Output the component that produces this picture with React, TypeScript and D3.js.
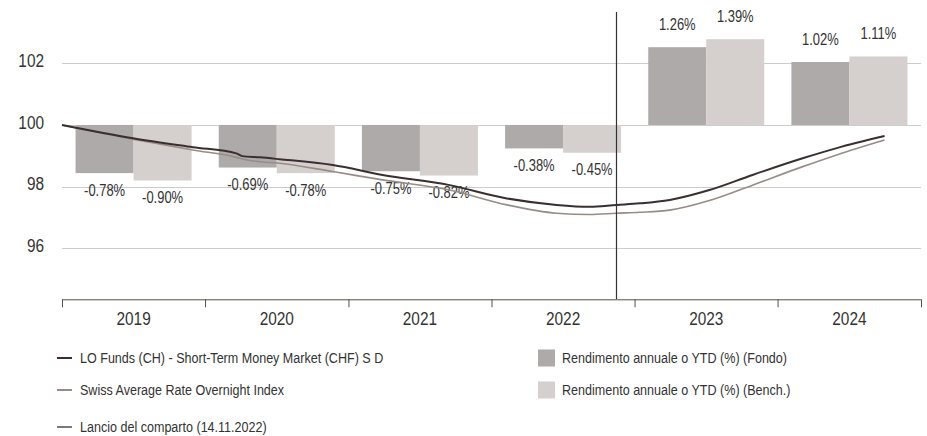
import React, { useEffect, useRef, useLayoutEffect } from 'react';
import * as d3 from 'd3';

const years = ['2019', '2020', '2021', '2022', '2023', '2024'];
const fundReturns = [-0.78, -0.69, -0.75, -0.38, 1.26, 1.02];
const benchReturns = [-0.9, -0.78, -0.82, -0.45, 1.39, 1.11];
const yTicks = [96, 98, 100, 102];

const lineDates = [
  '2019-01-01', '2019-07-01', '2019-12-01', '2020-03-21', '2020-04-05', '2020-05-20',
  '2020-07-09', '2020-11-22', '2021-03-29', '2021-09-16', '2022-02-09', '2022-06-16',
  '2022-09-08', '2022-11-16', '2023-01-14', '2023-04-01', '2023-07-11', '2023-10-29',
  '2024-03-05', '2024-05-31', '2024-09-30',
];
const fundIndex = [
  100.0, 99.57, 99.28, 99.08, 98.99, 98.95,
  98.89, 98.7, 98.38, 98.05, 97.62, 97.41,
  97.35, 97.41, 97.46, 97.57, 97.89, 98.38,
  98.92, 99.25, 99.64,
];
const benchIndex = [
  100.0, 99.54, 99.19, 98.95, 98.9, 98.81,
  98.76, 98.49, 98.22, 97.89, 97.41, 97.14,
  97.1, 97.14, 97.17, 97.24, 97.55, 98.05,
  98.65, 99.03, 99.51,
];
const launchDate = '2022-11-14';

const fundLabel = 'LO Funds (CH) - Short-Term Money Market (CHF) S D';
const benchLabel = 'Swiss Average Rate Overnight Index';
const launchLabel = 'Lancio del comparto (14.11.2022)';
const fundBarLabel = 'Rendimento annuale o YTD (%) (Fondo)';
const benchBarLabel = 'Rendimento annuale o YTD (%) (Bench.)';

const FONT = '"Liberation Sans", Arial, sans-serif';
const NARROW = 0.81; // no condensed face installed, squeeze horizontally
const TEXT = '#333';
const FUND_BAR = '#aeaaa9';
const BENCH_BAR = '#d5d0cd';
const FUND_LINE = '#3a2e2e';
const BENCH_LINE = '#988c86';

const W = 927;
const H = 436;

const App: React.FC = () => {
  const svgRef = useRef<SVGSVGElement>(null);

  useLayoutEffect(() => {
    document.body.style.margin = '0';
  }, []);

  useEffect(() => {
    const svg = d3.select(svgRef.current);
    svg.selectAll('*').remove();

    const left = 62;
    const right = 921;
    const axisY = 299.3;

    // condensed-looking text placed at (x, y)
    const label = (
      parent: d3.Selection<any, any, any, any>,
      x: number,
      y: number,
      txt: string,
      size: number,
      anchor = 'start'
    ) =>
      parent.append('text')
        .attr('transform', `translate(${x},${y}) scale(${NARROW},1)`)
        .attr('dy', '0.35em')
        .attr('text-anchor', anchor)
        .attr('font-family', FONT)
        .attr('font-size', size)
        .attr('fill', TEXT)
        .text(txt);

    const y = d3.scaleLinear().domain([94.35, 104.05]).range([axisY, 0]);
    // bars use their own % scale: 1% = 2 index points
    const yBar = d3.scaleLinear().domain([-1, 1]).range([y(98), y(102)]);

    const xBand = d3.scaleBand().domain(years).range([left, right]);
    const xSub = d3.scaleBand().domain(['fund', 'bench']).range([0, xBand.bandwidth()]).paddingOuter(0.234);
    const xTime = d3.scaleTime()
      .domain([new Date(2019, 0, 1), new Date(2025, 0, 1)])
      .range([left, right]);

    // Gridlines
    svg.append('g')
      .selectAll('line')
      .data(yTicks)
      .enter().append('line')
      .attr('x1', left)
      .attr('x2', right)
      .attr('y1', d => Math.round(y(d)) + 0.5)
      .attr('y2', d => Math.round(y(d)) + 0.5)
      .attr('stroke', '#cccccc')
      .attr('stroke-width', 1);

    // Y labels
    const yl = svg.append('g');
    yTicks.forEach(t => label(yl, 44, y(t) - 3, String(t), 19, 'end'));

    // Bars
    years.forEach((yr, i) => {
      const g = svg.append('g').attr('transform', `translate(${xBand(yr)},0)`);
      const items = [
        { key: 'fund', v: fundReturns[i], color: FUND_BAR },
        { key: 'bench', v: benchReturns[i], color: BENCH_BAR },
      ];
      g.selectAll('rect')
        .data(items)
        .enter().append('rect')
        .attr('x', d => xSub(d.key) as number)
        .attr('width', xSub.bandwidth())
        .attr('y', d => Math.min(yBar(d.v), yBar(0)))
        .attr('height', d => Math.abs(yBar(d.v) - yBar(0)))
        .attr('fill', d => d.color);

      items.forEach(d => {
        const cx = (xSub(d.key) as number) + xSub.bandwidth() / 2;
        const cy = d.v < 0 ? yBar(d.v) + 17 : yBar(d.v) - 23;
        label(g, cx, cy, `${d.v.toFixed(2)}%`, 16, 'middle');
      });
    });

    // Lines
    const parse = d3.timeParse('%Y-%m-%d');
    const pts = (vals: number[]) => lineDates.map((d, i) => ({ date: parse(d) as Date, v: vals[i] }));
    const line = d3.line<{ date: Date; v: number }>()
      .x(d => xTime(d.date))
      .y(d => y(d.v))
      .curve(d3.curveMonotoneX);

    svg.append('path')
      .attr('d', line(pts(benchIndex)))
      .attr('fill', 'none')
      .attr('stroke', BENCH_LINE)
      .attr('stroke-width', 1.6);

    svg.append('path')
      .attr('d', line(pts(fundIndex)))
      .attr('fill', 'none')
      .attr('stroke', FUND_LINE)
      .attr('stroke-width', 2);

    // Launch line
    const lx = Math.round(xTime(parse(launchDate) as Date)) + 0.5;
    svg.append('line')
      .attr('x1', lx)
      .attr('x2', lx)
      .attr('y1', 12)
      .attr('y2', axisY)
      .attr('stroke', '#333')
      .attr('stroke-width', 1.2);

    // X axis
    const axis = svg.append('g')
      .attr('transform', `translate(0,${axisY})`)
      .call(d3.axisBottom(xTime).ticks(d3.timeYear.every(1)).tickSize(8).tickFormat(() => ''));
    axis.selectAll('.domain').attr('stroke', '#55553f').attr('d', `M${left},0.5H${right}`);
    axis.selectAll('.tick line').attr('stroke', '#55553f');

    const xl = svg.append('g');
    years.forEach(yr => label(xl, (xBand(yr) as number) + xBand.bandwidth() / 2, 318, yr, 19, 'middle'));

    // Legend
    const leg = svg.append('g');
    const lineItems = [
      { label: fundLabel, color: FUND_LINE, w: 2, yy: 358 },
      { label: benchLabel, color: BENCH_LINE, w: 2, yy: 390 },
      { label: launchLabel, color: '#222', w: 1.2, yy: 427 },
    ];
    lineItems.forEach(it => {
      leg.append('line')
        .attr('x1', 57).attr('x2', 72)
        .attr('y1', it.yy).attr('y2', it.yy)
        .attr('stroke', it.color).attr('stroke-width', it.w);
      label(leg, 80, it.yy, it.label, 15.5);
    });
    const boxItems = [
      { label: fundBarLabel, color: FUND_BAR, yy: 358 },
      { label: benchBarLabel, color: BENCH_BAR, yy: 390 },
    ];
    boxItems.forEach(it => {
      leg.append('rect')
        .attr('x', 538).attr('y', it.yy - 8.5)
        .attr('width', 17).attr('height', 17)
        .attr('fill', it.color);
      label(leg, 562, it.yy, it.label, 15.5);
    });
  }, []);

  return (
    <div style={{ width: W, height: H }}>
      <svg ref={svgRef} width={W} height={H} style={{ display: 'block', background: '#fff' }}></svg>
    </div>
  );
};

export default App;
